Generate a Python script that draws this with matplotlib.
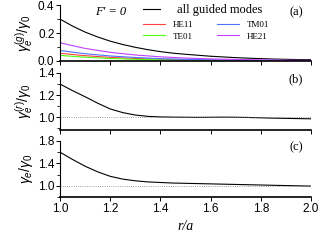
import matplotlib.pyplot as plt
from matplotlib.ticker import MultipleLocator, FixedLocator
from matplotlib.lines import Line2D

# ---------------- data ----------------
r = [1.00, 1.05, 1.10, 1.15, 1.20, 1.25, 1.30, 1.35, 1.40, 1.45, 1.50,
     1.55, 1.60, 1.65, 1.70, 1.75, 1.80, 1.85, 1.90, 1.95, 2.00]

# panel (a): guided-mode contributions
g_all = [0.300, 0.250, 0.207, 0.172, 0.142, 0.118, 0.098, 0.081, 0.067, 0.056, 0.048,
         0.041, 0.034, 0.029, 0.024, 0.020, 0.017, 0.014, 0.012, 0.010, 0.009]

r_modes = [1.0, 1.1, 1.2, 1.3, 1.4, 1.5, 1.6, 1.7, 1.8, 1.9, 2.0]
he11 = [0.055, 0.038, 0.026, 0.018, 0.012, 0.009, 0.006, 0.004, 0.003, 0.002, 0.002]
tm01 = [0.075, 0.052, 0.036, 0.025, 0.017, 0.012, 0.009, 0.006, 0.004, 0.003, 0.002]
te01 = [0.040, 0.027, 0.018, 0.012, 0.008, 0.006, 0.004, 0.003, 0.002, 0.001, 0.001]
he21 = [0.130, 0.090, 0.062, 0.043, 0.030, 0.021, 0.015, 0.011, 0.008, 0.006, 0.004]
mode_names = ['HE11', 'TE01', 'TM01', 'HE21']
mode_colors = ['#ff4040', '#50ff10', '#5070ff', '#c040ff']

# panel (b): radiation modes
g_rad = [1.300, 1.240, 1.185, 1.127, 1.075, 1.042, 1.020, 1.008, 1.003, 1.001, 1.000,
         0.999, 1.000, 1.001, 1.000, 0.998, 0.995, 0.992, 0.990, 0.988, 0.986]

# panel (c): total
g_tot = [1.600, 1.470, 1.350, 1.250, 1.170, 1.120, 1.090, 1.070, 1.060, 1.050, 1.045,
         1.040, 1.035, 1.030, 1.025, 1.020, 1.015, 1.010, 1.005, 1.000, 0.995]

plt.rcParams['font.family'] = 'Liberation Sans'
plt.rcParams['mathtext.fontset'] = 'custom'
plt.rcParams['mathtext.rm'] = 'Liberation Sans'
plt.rcParams['mathtext.it'] = 'Liberation Sans:italic'

fig = plt.figure(figsize=(3.19, 2.43), dpi=100)
L, W = 0.188, 0.787
ax_a = fig.add_axes([L, 0.749, W, 0.230])
ax_b = fig.add_axes([L, 0.465, W, 0.235])
ax_c = fig.add_axes([L, 0.189, W, 0.231])

for ax in (ax_a, ax_b, ax_c):
    ax.set_xlim(1.0, 2.0)
    ax.spines['top'].set_visible(False)
    ax.spines['right'].set_visible(False)
    ax.spines['left'].set_linewidth(0.8)
    ax.spines['bottom'].set_linewidth(1.2)
    ax.xaxis.set_major_locator(MultipleLocator(0.2))
    ax.tick_params(axis='both', which='major', length=3, width=0.7, labelsize=8.5, pad=1)
    ax.tick_params(axis='both', which='minor', length=2, width=0.6)
    if ax is not ax_c:
        ax.tick_params(axis='x', labelbottom=False)

# (a)
ax_a.plot(r, g_all, color='black', lw=0.8)
for vals, c in zip([he11, te01, tm01, he21], mode_colors):
    ax_a.plot(r_modes, vals, color=c, lw=0.8)
ax_a.set_ylim(0.0, 0.4)
ax_a.yaxis.set_major_locator(MultipleLocator(0.2))
ax_a.yaxis.set_minor_locator(MultipleLocator(0.1))
ax_a.set_ylabel(r'$\gamma_e^{(g)}/\gamma_0$', fontsize=10, labelpad=2)

leg1 = ax_a.legend([Line2D([], [], color='black', lw=0.8)], ['all guided modes'],
                   loc='upper left', bbox_to_anchor=(0.33, 1.02), frameon=False,
                   handlelength=1.4, handletextpad=1.3, borderpad=0, borderaxespad=0,
                   prop={'family': 'Liberation Serif', 'size': 9})
ax_a.add_artist(leg1)
ax_a.legend([Line2D([], [], color=c, lw=0.8) for c in mode_colors], mode_names,
            loc='upper left', bbox_to_anchor=(0.33, 0.72), ncol=2, frameon=False,
            handlelength=2.5, handletextpad=0.8, columnspacing=2.6,
            borderpad=0, borderaxespad=0, labelspacing=0.35,
            prop={'family': 'Liberation Serif', 'size': 6.5})
ax_a.text(0.14, 0.87, "F' = 0", transform=ax_a.transAxes, fontsize=9,
          family='Liberation Serif', style='italic', va='center')
ax_a.text(0.94, 0.87, '(a)', transform=ax_a.transAxes, fontsize=9,
          family='Liberation Serif', ha='center', va='center')

# (b)
ax_b.plot(r, g_rad, color='black', lw=0.8)
ax_b.axhline(1.0, color='gray', lw=0.6, ls=':')
ax_b.set_ylim(0.885, 1.4)
ax_b.yaxis.set_major_locator(MultipleLocator(0.2))
ax_b.yaxis.set_minor_locator(MultipleLocator(0.1))
ax_b.set_ylabel(r'$\gamma_e^{(r)}/\gamma_0$', fontsize=10, labelpad=2)
ax_b.text(0.94, 0.88, '(b)', transform=ax_b.transAxes, fontsize=9,
          family='Liberation Serif', ha='center', va='center')

# (c)
ax_c.plot(r, g_tot, color='black', lw=0.8)
ax_c.axhline(1.0, color='gray', lw=0.6, ls=':')
ax_c.set_ylim(0.8, 1.8)
ax_c.yaxis.set_major_locator(FixedLocator([1.0, 1.4, 1.8]))
ax_c.yaxis.set_minor_locator(FixedLocator([0.8, 1.2, 1.6]))
ax_c.set_ylabel(r'$\gamma_e/\gamma_0$', fontsize=10, labelpad=2)
ax_c.text(0.94, 0.88, '(c)', transform=ax_c.transAxes, fontsize=9,
          family='Liberation Serif', ha='center', va='center')
ax_c.set_xlabel('r/a', fontsize=10, family='Liberation Serif', style='italic', labelpad=4)

fig.align_ylabels([ax_a, ax_b, ax_c])
fig.savefig('out.png', dpi=100)
